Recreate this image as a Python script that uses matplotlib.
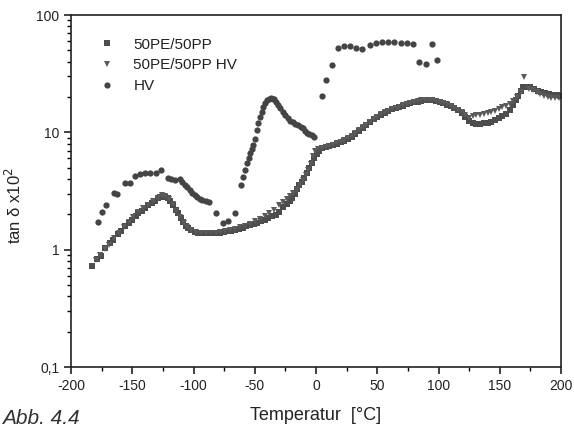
import matplotlib.pyplot as plt
from matplotlib.ticker import LogLocator, FixedLocator, MultipleLocator, NullFormatter

plt.rcParams['font.family'] = ['Liberation Sans', 'DejaVu Sans']
plt.rcParams['axes.unicode_minus'] = False

# 50PE/50PP (squares)
pe_pp_t = [-183, -179, -175.5, -172, -168, -166, -162, -159, -156, -153, -150, -147, -145,
           -142, -139.5, -137, -134, -131.5, -129, -127, -125, -123, -121, -119, -116.7,
           -114.5, -112.5, -110.5, -108.5, -106.5, -104.5, -102, -99, -96, -93, -90, -87,
           -84, -81, -78, -75, -72, -69, -66, -63, -60, -57, -54, -51, -48, -45, -42, -39,
           -36, -33, -30, -27, -24, -21.5, -19.5, -17.5, -15.5, -13.5, -11.5, -9.5, -7.5,
           -5.5, -3.5, -1.5, 0.5, 2.5, 5, 8, 11, 14, 17, 20, 23, 26, 29, 32, 35, 38, 41, 44,
           47, 50, 53, 56, 59, 62, 65, 68, 71, 74, 77, 80, 83, 86, 89, 92, 95, 98, 101, 104,
           107, 110, 113, 116, 119, 122, 125, 128, 131, 134, 137, 140, 143, 146, 149, 152,
           155, 158, 160.5, 163, 165, 167, 169, 172, 175, 178, 181, 184, 187, 190, 193,
           196.5, 199]
pe_pp_v = [0.72, 0.83, 0.88, 1.03, 1.13, 1.2, 1.35, 1.45, 1.6, 1.7, 1.8, 1.95, 2.05,
           2.15, 2.27, 2.4, 2.5, 2.62, 2.74, 2.8, 2.82, 2.8, 2.74, 2.6, 2.4,
           2.2, 2.05, 1.87, 1.72, 1.6, 1.52, 1.46, 1.42, 1.4, 1.38, 1.38, 1.38,
           1.38, 1.38, 1.4, 1.41, 1.43, 1.45, 1.48, 1.51, 1.54, 1.58, 1.62, 1.66, 1.7, 1.75,
           1.8, 1.86, 1.92, 1.98, 2.1, 2.3, 2.45, 2.6, 2.74, 3.0, 3.3, 3.55, 3.8, 4.1, 4.5,
           5.0, 5.5, 6.1, 6.6, 7.0, 7.3, 7.5, 7.6, 7.8, 8.0, 8.2, 8.5, 8.8, 9.2, 9.7, 10.3,
           10.9, 11.5, 12.2, 12.9, 13.5, 14.1, 14.7, 15.2, 15.7, 16.1, 16.5, 16.9, 17.3,
           17.7, 18.0, 18.3, 18.6, 18.8, 18.9, 18.8, 18.6, 18.2, 17.7, 17.2, 16.7, 16.2,
           15.4, 14.6, 13.6, 12.6, 12.0, 11.8, 11.8, 11.9, 12.0, 12.3, 12.7, 13.2, 13.7,
           14.3, 15.5, 17.1, 19.0, 20.5, 22.5, 24.3, 24.5, 24.2, 23.2, 22.5, 22.0, 21.6,
           21.3, 21.0, 20.8, 20.5]

# 50PE/50PP HV (triangles)
pe_pp_hv_t = [-180, -176, -172, -169, -165, -161, -157, -153, -149, -145, -141, -137, -133,
              -129, -126, -123, -120, -117, -114, -111, -108, -105, -102, -98, -94, -90,
              -86, -82, -78, -74, -70, -66, -62, -58, -54, -50, -46, -42, -38, -34, -30,
              -27, -24, -21, -18.5, -15.5, -13, -10.5, -8.5, -6.5, -4.5, -2.5, -0.5, 2, 5,
              8, 11, 14, 17, 20, 23, 26, 29, 32, 35, 38, 41, 44, 47, 50, 53, 56, 59, 62, 65,
              68, 71, 74, 77, 80, 83, 86, 89, 92, 95, 98, 101, 104, 107, 110, 113, 116, 119,
              122, 125, 128, 131, 134, 137, 140, 143, 146, 149, 152, 155, 158, 161, 164,
              167, 170, 174, 177, 180, 183, 186, 189, 192, 195, 198]
pe_pp_hv_v = [0.82, 0.9, 1.02, 1.1, 1.25, 1.38, 1.55, 1.72, 1.9, 2.08, 2.25, 2.42, 2.6,
              2.78, 2.9, 2.85, 2.7, 2.45, 2.15, 1.9, 1.7, 1.55, 1.46, 1.41, 1.39, 1.38,
              1.38, 1.4, 1.42, 1.44, 1.47, 1.5, 1.55, 1.6, 1.66, 1.74, 1.82, 1.92, 2.04,
              2.2, 2.38, 2.55, 2.7, 2.85, 3.05, 3.25, 3.55, 3.9, 4.3, 4.8, 5.4, 6.3, 6.9,
              7.2, 7.4, 7.5, 7.6, 7.8, 8.1, 8.3, 8.6, 8.9, 9.3, 9.8, 10.4, 11.0, 11.6, 12.3,
              13.0, 13.6, 14.2, 14.8, 15.3, 15.8, 16.2, 16.6, 17.0, 17.4, 17.8, 18.1, 18.4,
              18.7, 18.9, 19.0, 18.9, 18.6, 18.3, 17.8, 17.3, 16.8, 16.2, 15.5, 14.8, 14.0,
              13.3, 13.8, 14.0, 14.1, 14.3, 14.5, 14.8, 15.3, 15.8, 16.3, 16.8, 17.3, 18.5,
              20.0, 22.0, 29.5, 23.5, 22.8, 22.0, 21.2, 20.6, 20.2, 19.8, 19.6, 19.5]

# HV (circles)
hv_t = [-178, -175, -171.5, -165, -162.5, -156, -152, -148, -143.7, -139.6, -135.5, -131,
        -126.5, -121, -118, -115, -111, -109, -107, -105, -103, -101, -99, -97, -95, -93,
        -90, -87, -81.6, -76, -72, -66, -61, -59.6, -58, -56.5, -55, -54, -52.5, -51.4,
        -50, -48, -47, -45.7, -44.5, -43, -41.5, -40, -38.5, -37, -35.5, -34, -32.5, -31,
        -29, -27, -25, -23, -21, -19, -17, -14.7, -12.5, -10.6, -9, -7.5, -5.5, -3.3,
        -1.6, 5, 8, 13, 18, 23, 27.8, 32.6, 37.6, 44, 49, 54, 58.8, 63.7, 69, 74, 79, 84,
        89.8, 94.5, 99]
hv_v = [1.72, 2.09, 2.4, 3.04, 3.0, 3.7, 3.7, 4.26, 4.4, 4.5, 4.5, 4.5,
        4.8, 4.07, 4.0, 3.95, 4.0, 3.8, 3.55, 3.4, 3.2, 3.05, 2.9, 2.8, 2.7, 2.63,
        2.58, 2.55, 2.04, 1.69, 1.75, 2.04, 3.55, 4.17, 4.8, 5.47, 6.1, 6.65, 7.2, 7.8,
        8.8, 10.5, 12.0, 13.5, 15.0, 16.4, 17.8, 18.8, 19.3, 19.5, 19.4, 19.2, 18.3, 17.1,
        16.0, 15.0, 14.0, 13.2, 12.6, 12.2, 11.8, 11.5, 11.2, 10.9, 10.3, 9.8, 9.6, 9.5,
        9.1, 20.4, 27.9, 37.5, 52.3, 54.3, 54, 52, 51, 55.5, 57.7, 59, 59, 59, 58, 57.5,
        56.5, 39.6, 37.9, 56.5, 41]

x_ticks = [-200, -150, -100, -50, 0, 50, 100, 150, 200]
y_ticks = [0.1, 1, 10, 100]
y_tick_labels = ['0,1', '1', '10', '100']

fig = plt.figure(figsize=(5.74, 4.29), dpi=100)
ax = fig.add_axes([0.1237, 0.1445, 0.8537, 0.8205])

ax.plot(pe_pp_t, pe_pp_v, linestyle='none', marker='s', ms=4, color='#4d4d4d',
        markeredgewidth=0, label='50PE/50PP')
ax.plot(pe_pp_hv_t, pe_pp_hv_v, linestyle='none', marker='v', ms=4.5, color='#5a5a5a',
        markeredgewidth=0, label='50PE/50PP HV')
ax.plot(hv_t, hv_v, linestyle='none', marker='o', ms=4.5, color='#444444',
        markeredgewidth=0, label='HV')

ax.set_yscale('log')
ax.set_xlim(-200, 200)
ax.set_ylim(0.1, 100)

ax.xaxis.set_major_locator(FixedLocator(x_ticks))
ax.xaxis.set_minor_locator(MultipleLocator(25))
ax.set_yticks(y_ticks)
ax.set_yticklabels(y_tick_labels)
ax.yaxis.set_minor_locator(LogLocator(base=10, subs=range(2, 10)))
ax.yaxis.set_minor_formatter(NullFormatter())

ax.tick_params(axis='both', which='major', direction='out', length=5, width=1.2,
               labelsize=10, colors='#222222')
ax.tick_params(axis='both', which='minor', direction='out', length=3, width=1.0)
ax.tick_params(top=False, right=False, which='both')
for s in ax.spines.values():
    s.set_linewidth(1.2)
    s.set_color('#222222')

ax.set_xlabel('Temperatur  [°C]', fontsize=13, color='#222222')
ax.xaxis.set_label_coords(0.5, -0.115)
ax.set_ylabel('tan δ x10$^2$', fontsize=12, color='#222222')
ax.yaxis.set_label_coords(-0.095, 0.46)

leg = ax.legend(loc='upper left', bbox_to_anchor=(0.015, 0.975), frameon=False,
                fontsize=11, handletextpad=0.7, labelspacing=0.45, markerscale=1.0)
for t in leg.get_texts():
    t.set_color('#222222')

fig.text(0.003, 0.003, 'Abb. 4.4', fontsize=15, style='italic', color='#333333',
         va='bottom', ha='left')

fig.savefig('out.png', dpi=100)
